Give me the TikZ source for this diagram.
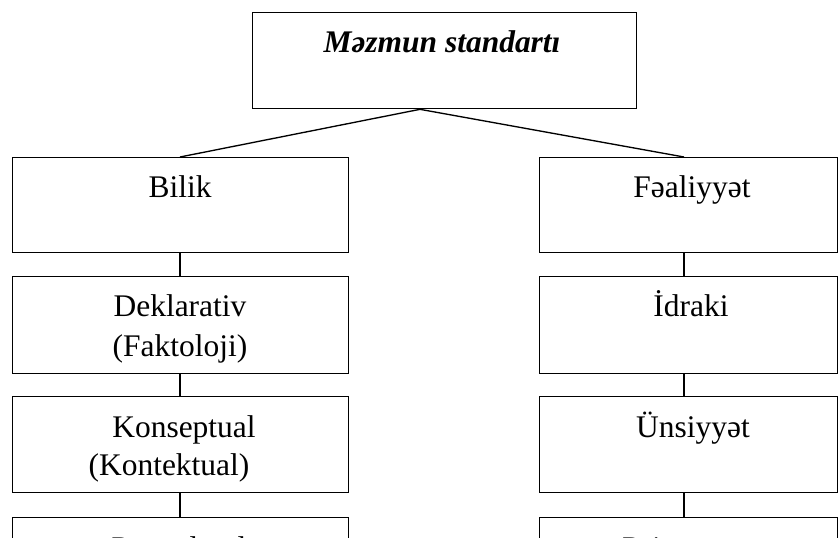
\documentclass[tikz,border=0pt]{standalone}
\usepackage{fontspec}
\setmainfont{Liberation Serif}
\begin{document}
\begin{tikzpicture}[x=0.75pt,y=-0.75pt,
  box/.style={draw=black, line width=1pt, rectangle, inner sep=0pt, anchor=north west, minimum width=252pt},
  rbox/.style={box, minimum width=223.5pt},
  lbl/.style={anchor=base, inner sep=0pt, font=\fontsize{23.6}{28}\selectfont},
  link/.style={draw=black, line width=1pt}]
\useasboundingbox (0,0) rectangle (839,538);
\clip (0,0) rectangle (839,538);
\fill[white] (0,0) rectangle (839,538);
% helper coordinates for connector columns
\coordinate (jc) at (420,0);
\coordinate (lc) at (180,0);
\coordinate (rc) at (684,0);
% boxes
\node[box, minimum width=288pt, minimum height=72pt] (top) at (252,12) {};
\node[box, minimum height=71.25pt] (bil) at (12,157) {};
\node[box, minimum height=72.75pt] (dek) at (12,276) {};
\node[box, minimum height=72pt] (kon) at (12,396) {};
\node[box, minimum height=72pt] (pro) at (12,517) {};
\node[rbox, minimum height=71.25pt] (fa) at (539,157) {};
\node[rbox, minimum height=72.75pt] (idr) at (539,276) {};
\node[rbox, minimum height=72pt] (uns) at (539,396) {};
\node[rbox, minimum height=72pt] (psi) at (539,517) {};
% labels
\node[lbl] (topT) at (442,53) {\textbf{\textit{Məzmun standartı}}};
\node[lbl] (bilT) at (180,198) {Bilik};
\node[lbl] (dekT1) at (180,317) {Deklarativ};
\node[lbl] (dekT2) at (180,357) {(Faktoloji)};
\node[lbl] (konT1) at (184,437) {Konseptual};
\node[lbl] (konT2) at (169,475) {(Kontektual)};
\node[lbl] (proT) at (179,558) {Prosedural};
\node[lbl] (faT) at (692,198) {Fəaliyyət};
\node[lbl] (idrT) at (691,317) {İdraki};
\node[lbl] (unsT) at (693,437) {Ünsiyyət};
\node[lbl] (psiT) at (695,558) {Psixomotor};
% connectors
\draw[link] (top.south -| jc) -- (bil.north -| lc);
\draw[link] (top.south -| jc) -- (fa.north -| rc);
\draw[link] (bil.south -| lc) -- (dek.north -| lc);
\draw[link] (dek.south -| lc) -- (kon.north -| lc);
\draw[link] (kon.south -| lc) -- (pro.north -| lc);
\draw[link] (fa.south -| rc) -- (idr.north -| rc);
\draw[link] (idr.south -| rc) -- (uns.north -| rc);
\draw[link] (uns.south -| rc) -- (psi.north -| rc);
\end{tikzpicture}
\end{document}
